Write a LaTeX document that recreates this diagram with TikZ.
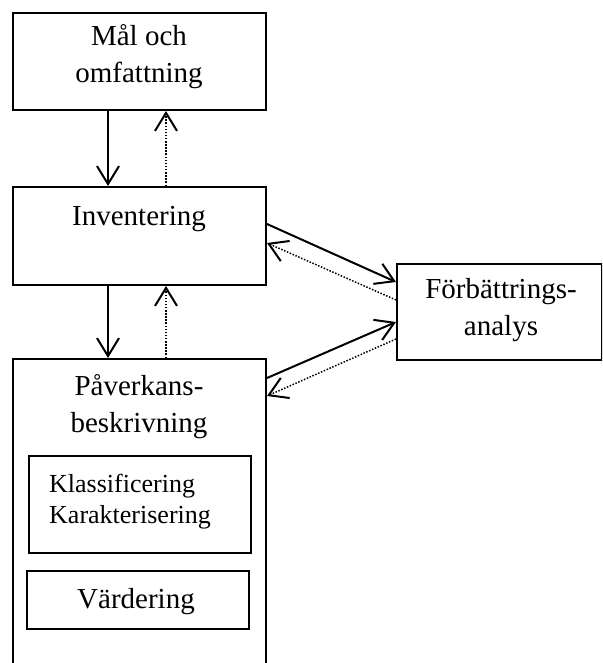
\documentclass[tikz,border=0pt]{standalone}
\usepackage{fontspec}
\setmainfont{Liberation Serif}
\usetikzlibrary{arrows.meta}

\begin{document}
\begin{tikzpicture}[x=1pt,y=-1pt,
  box/.style={draw, line width=2pt, rectangle, inner sep=0pt, anchor=north west},
  bigtext/.style={font=\fontsize{29}{37}\selectfont, align=center, inner sep=0pt},
  smalltext/.style={font=\fontsize{26}{31}\selectfont, align=left, inner sep=0pt},
  openhead/.style={-{Straight Barb[length=18pt,width=22pt,line width=2pt]}},
  flow/.style={line width=2pt, openhead},
  feedback/.style={line width=1.5pt, dash pattern=on 1.5pt off 1.6pt, openhead}
]
  \clip (0,0) rectangle (602,663);

  % main phases (text nodes are anchored on the baseline of their last line)
  \node[box, minimum width=253pt, minimum height=97pt] (mal) at (12,12) {};
  \node[bigtext, anchor=base] (maltext) at (139,83) {Mål och\\omfattning};
  \node[box, minimum width=253pt, minimum height=98pt] (inv) at (12,186) {};
  \node[bigtext, anchor=base] (invtext) at (139,225) {Inventering};
  \node[box, minimum width=253pt, minimum height=330pt] (pav) at (12,358) {};
  \node[bigtext, anchor=base] (pavtext) at (139,432) {Påverkans-\\beskrivning};

  % sub-steps of the impact assessment
  \node[box, minimum width=222pt, minimum height=97pt] (klass) at (28,455) {};
  \node[smalltext, anchor=base west] (klasstext) at (49,523)
    {Klassificering\\Karakterisering};
  \node[box, minimum width=222pt, minimum height=58pt] (vard) at (26,570) {};
  \node[bigtext, anchor=base] (vardtext) at (136,608) {Värdering};

  % improvement analysis
  \node[box, minimum width=205pt, minimum height=96pt] (fb) at (396,263) {};
  \node[bigtext, anchor=base] (fbtext) at (501,335) {Förbättrings-\\analys};

  % vertical flow between phases
  \draw[flow] ([xshift=96pt]mal.south west) -- ([xshift=96pt]inv.north west);
  \draw[feedback] ([xshift=154pt]inv.north west) -- ([xshift=154pt]mal.south west);
  \draw[flow] ([xshift=96pt]inv.south west) -- ([xshift=96pt]pav.north west);
  \draw[feedback] ([xshift=154pt]pav.north west) -- ([xshift=154pt]inv.south west);

  % links with the improvement analysis
  \draw[flow] ([yshift=-38pt]inv.north east) -- ([yshift=-19pt]fb.north west);
  \draw[feedback] ([yshift=-37pt]fb.north west) -- ([yshift=-57pt]inv.north east);
  \draw[flow] ([yshift=-20pt]pav.north east) -- ([yshift=-59pt]fb.north west);
  \draw[feedback] ([yshift=-76pt]fb.north west) -- ([yshift=-38pt]pav.north east);
\end{tikzpicture}
\end{document}
